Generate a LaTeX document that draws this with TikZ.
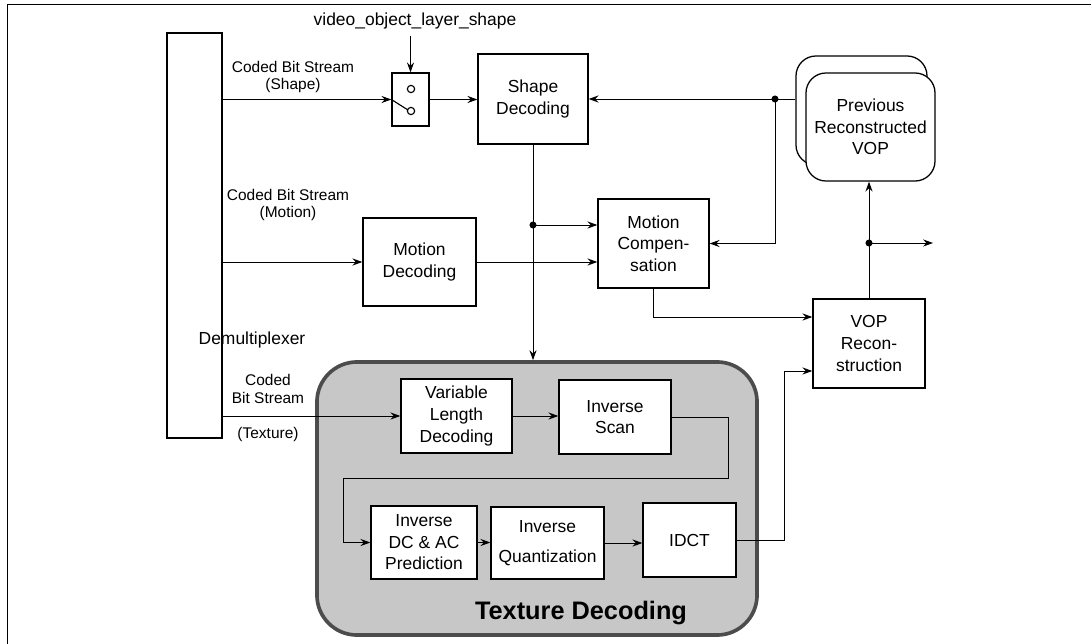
\documentclass[tikz,border=0pt]{standalone}
\usepackage{fontspec}
\setmainfont{Liberation Sans}
\usetikzlibrary{arrows.meta}

\begin{document}
\begin{tikzpicture}[x=0.025cm, y=-0.025cm, >={Stealth[length=7pt,width=5pt]}, line width=0.7pt,
		box/.style={draw, line width=0.9pt, fill=white, align=center, inner sep=0pt, font=\fontsize{12.4}{15.3}\selectfont},
		txt/.style={align=center, inner sep=0pt, font=\fontsize{12.4}{15.3}\selectfont},
		lbl/.style={align=center, inner sep=0pt, font=\fontsize{11}{12.2}\selectfont},
		jdot/.style={circle, fill, inner sep=0pt, minimum size=5pt}]
	\useasboundingbox (0,0) rectangle (1091,644);
	
	% frame
	\draw[line width=0.6pt] (7,644) -- (7,4) -- (1091,4);
	
	% texture decoding area
	\node[draw=black!70, fill=black!22, line width=2.6pt, rounded corners=1cm,
		minimum width=11cm, minimum height=6.825cm] (texture) at (537,498.5) {};
	\node[font=\bfseries\fontsize{18}{20}\selectfont, inner sep=0pt] (texlabel) at (581,613) {Texture Decoding};
	
	% blocks
	\node[box, minimum width=1.375cm, minimum height=10.125cm] (demux) at (194.5,235.5) {};
	\node[txt] (demuxlabel) at (252,340) {Demultiplexer};
	\node[box, minimum width=0.925cm, minimum height=1.325cm] (sw) at (410.5,99.5) {};
	\node[box, minimum width=2.75cm, minimum height=2.25cm] (shape) at (533,99) {Shape\\Decoding};
	\node[box, minimum width=2.825cm, minimum height=2.2cm] (motdec) at (419.5,262) {Motion\\Decoding};
	\node[box, minimum width=2.775cm, minimum height=2.225cm] (motcomp) at (653.5,243.5) {Motion\\Compen-\\sation};
	\node[box, rounded corners=0.5cm, minimum width=3.275cm, minimum height=2.725cm] (prevback) at (861.5,110.5) {};
	\node[box, rounded corners=0.5cm, minimum width=3.225cm, minimum height=2.7cm] (prev) at (870.5,127) {Previous\\Reconstructed\\VOP};
	\node[box, minimum width=2.8cm, minimum height=2.225cm] (vop) at (869,343.5) {VOP\\Recon-\\struction};
	
	\node[box, minimum width=2.775cm, minimum height=1.85cm] (vld) at (456.5,416) {Variable\\Length\\Decoding};
	\node[box, minimum width=2.8cm, minimum height=1.85cm] (iscan) at (615,417) {Inverse\\Scan};
	\node[box, minimum width=2.65cm, minimum height=1.825cm] (idcac) at (424,542.5) {Inverse\\DC \& AC\\Prediction};
	\node[box, minimum width=2.825cm, minimum height=1.8cm] (iquant) at (547.5,543) {Inverse\\[6pt]Quantization};
	\node[box, minimum width=2.325cm, minimum height=1.85cm] (idct) at (689.5,540) {IDCT};
	
	% labels
	\node[txt] (vols) at (415,21) {video\_object\_layer\_shape};
	\node[lbl] (shapelbl) at (293,77) {Coded Bit Stream\\(Shape)};
	\node[lbl] (motlbl) at (288,205) {Coded Bit Stream\\(Motion)};
	\node[lbl] (texlbl) at (268,389) {Coded\\Bit Stream};
	\node[lbl] (texlbl2) at (268,434) {(Texture)};
	
	% switch
	\draw[line width=0.8pt] (411,89) circle (2.6pt);
	\draw[line width=0.8pt] (411,111) circle (2.6pt);
	\draw[line width=0.8pt] (sw.west) -- (408,110);
	
	% helper points
	\coordinate (j1) at (775,99);
	\coordinate (j2) at (869,243);
	\coordinate (j3) at (533,225);
	\coordinate (out) at (933,243);
	\coordinate (m) at (653.5,317);
	\coordinate (c) at (784,371);
	\coordinate (r1) at (728,478);
	\coordinate (l1) at (343,478);
	
	% connections
	\draw[->] (sw.north |- vols.south) ++(0,6) -- (sw.north);
	\draw[->] (demux.east |- sw) -- (sw.west);
	\draw[->] (sw.east) -- (sw.east -| shape.west);
	\draw[->] (demux.east |- motdec) -- (motdec.west);
	\draw[->] (motdec.east) -- (motdec.east -| motcomp.west);
	\draw[->] (shape.south) -- (shape.south |- texture.north);
	\draw[->] (j3) -- (j3 -| motcomp.west);
	\draw (prevback.west |- j1) -- (j1);
	\draw[->] (j1) -- (j1 -| shape.east);
	\draw[->] (j1) |- (motcomp.east);
	\draw[->] (motcomp.south) -- (m) -- (vop.west |- m);
	\draw[->] (vop.north) -- (vop.north |- prev.south);
	\draw[->] (j2) -- (out);
	\draw[->] (demux.east |- vld) -- (vld.west);
	\draw[->] (vld.east) -- (vld.east -| iscan.west);
	\draw[->] (iscan.east) -| (r1) -- (l1) |- (idcac.west);
	\draw[->] (idcac.east) -- (idcac.east -| iquant.west);
	\draw[->] (iquant.east) -- (iquant.east -| idct.west);
	\draw[->] (idct.east) -| (c) -- (c -| vop.west);
	
	% junctions
	\node[jdot] at (j1) {};
	\node[jdot] at (j2) {};
	\node[jdot] at (j3) {};
\end{tikzpicture}
\end{document}
